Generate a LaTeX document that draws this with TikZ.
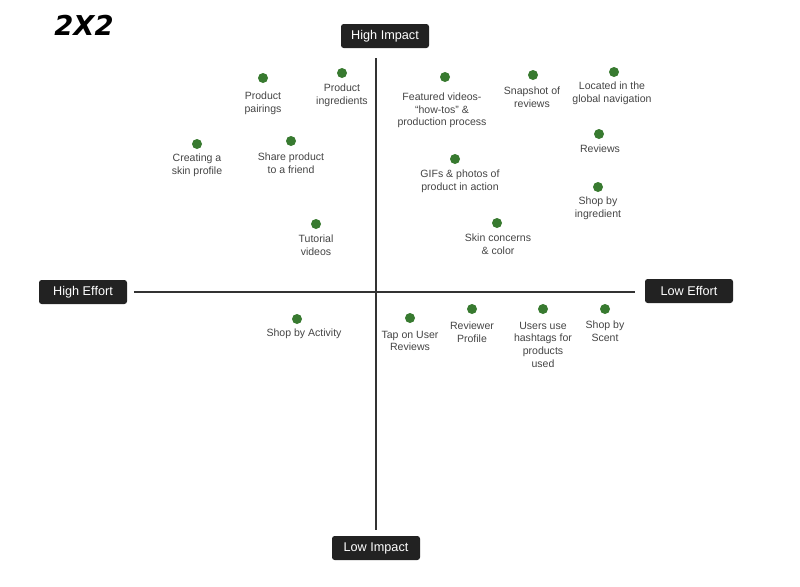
\documentclass[tikz,border=0pt]{standalone}
\usepackage{fontspec}
\setmainfont{Liberation Sans}
\newfontfamily\handfont{DejaVu Sans}
\usetikzlibrary{positioning}
\definecolor{dotgreen}{RGB}{56,122,48}
\definecolor{txtgray}{RGB}{68,68,68}
\definecolor{boxblack}{RGB}{34,34,34}
\tikzset{
  axisbox/.style={fill=boxblack,text=white,rounded corners=2pt,minimum width=66pt,minimum height=18pt,inner sep=0pt,font=\fontsize{9.5}{11}\selectfont},
  axisline/.style={draw=black!80,line width=1.5pt},
  dot/.style={circle,fill=dotgreen,minimum size=7.5pt,inner sep=0pt},
  lbl/.style={text=txtgray,align=center,inner sep=0pt,font=\fontsize{7.9}{9.4}\selectfont}
}
\begin{document}
\begin{tikzpicture}[x=0.75pt,y=-0.75pt]
\useasboundingbox (0,0) rectangle (800,586);
%title
\node (title) at (84,25) {\handfont\bfseries\itshape\fontsize{20.5}{20.5}\selectfont 2X2};
%axis labels
\node[axisbox] (hi) at (385,36) {High Impact};
\node[axisbox] (li) at (376,548) {Low Impact};
\node[axisbox] (he) at (83,292) {High Effort};
\node[axisbox] (le) at (689,291) {Low Effort};
%axes
\draw[axisline,shorten <=7.5pt,shorten >=4.5pt] (hi.south -| li.north) -- (li.north);
\draw[axisline,shorten <=5pt,shorten >=7pt] (he.east) -- (le.west |- he.east);
%items: name/x/y/text shift x/text shift y/text
\foreach \n/\x/\y/\dx/\dy/\t in {
  pp/263/78/0/4/{Product\\pairings},
  pi/342/73/0/1/{Product\\ingredients},
  sp/197/144/0/0/{Creating a\\skin profile},
  sf/291/141/0/2/{Share product\\to a friend},
  tv/316/224/0/1/{Tutorial\\videos},
  fv/445/77/-3/6/{Featured videos-\\“how-tos” \&\\production process},
  sr/533/75/-1/2/{Snapshot of\\reviews},
  gn/614/72/-2/0/{Located in the\\global navigation},
  rv/599/134/1/1/{Reviews},
  gif/455/159/5/1/{GIFs \& photos of\\product in action},
  si/598/187/0/0/{Shop by\\ingredient},
  sc/497/223/1/1/{Skin concerns\\\& color},
  sa/297/319/7/0/{Shop by Activity},
  tu/410/318/0/3/{Tap on User\\Reviews},
  rp/472/309/0/3/{Reviewer\\Profile},
  ht/543/309/0/3/{Users use\\hashtags for\\products\\used},
  ss/605/309/0/2/{Shop by\\Scent}}
{
  \node[dot] (\n) at (\x,\y) {};
  \node[lbl,below=3.5pt of \n,xshift=0.75*\dx pt,yshift=-0.75*\dy pt] (\n-t) {\t};
}
\end{tikzpicture}
\end{document}
